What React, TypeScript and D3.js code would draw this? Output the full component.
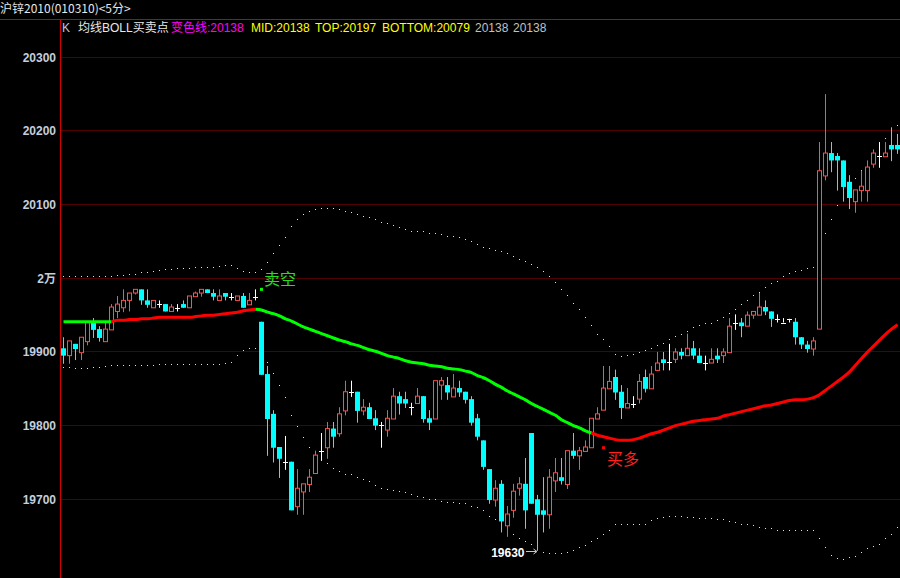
import React from 'react';
import * as d3 from 'd3';

// ---------- data (prices) ----------
const opens = [19905,19895,19911,19899,19914,19941,19931,19914,19930,19955, 19960,19970,19980,19985,19970,19960,19965,19965,19955,19960, 19965,19960,19975,19980,19985,19980,19970,19980,19975,19970, 19976,19964,19975,19941,19870,19816,19771,19751,19751,19690, 19710,19720,19735,19766,19770,19796,19789,19820,19846,19846, 19820,19825,19810,19801,19794,19809,19840,19836,19825,19830, 19840,19810,19809,19855,19855,19839,19851,19846,19836,19810, 19780,19741,19699,19721,19664,19685,19715,19721,19790,19700, 19685,19679,19725,19730,19720,19766,19759,19765,19770,19809, 19821,19850,19866,19846,19824,19830,19836,19866,19850,19875, 19890,19887,19890,19900,19895,19905,19895,19885,19885,19895, 19895,19899,19940,19940,19935,19950,19950,19961,19955,19945, 19940,19945,19941,19920,19910,19904,19931,20139,20170,20166, 20160,20131,20104,20119,20119,20155,20166,20165,20181,20181];
const highs = [19920,19915,19911,19920,19942,19946,19935,19940,19965,19976, 19985,19980,19985,19985,19985,19970,19970,19965,19965,19965, 19970,19976,19982,19985,19985,19985,19985,19980,19980,19976, 19980,19980,19985,19941,19881,19821,19771,19786,19751,19741, 19721,19741,19766,19790,19805,19805,19825,19861,19861,19846, 19836,19831,19821,19805,19821,19851,19846,19846,19831,19851, 19840,19821,19861,19866,19866,19870,19861,19846,19840,19816, 19780,19741,19726,19726,19691,19721,19730,19756,19790,19706, 19730,19741,19756,19756,19766,19790,19771,19780,19810,19825, 19881,19881,19876,19855,19851,19840,19870,19876,19881,19900, 19900,19911,19905,19905,19925,19915,19905,19895,19905,19905, 19905,19946,19951,19946,19955,19955,19980,19970,19955,19951, 19946,19945,19946,19920,19915,19920,20185,20250,20185,20170, 20160,20140,20120,20146,20160,20175,20185,20185,20205,20196];
const lows = [19884,19884,19889,19889,19909,19919,19914,19914,19930,19946, 19954,19955,19978,19964,19960,19960,19960,19955,19955,19955, 19960,19960,19975,19975,19980,19970,19970,19970,19970,19970, 19960,19964,19970,19869,19759,19750,19729,19740,19685,19679, 19679,19710,19735,19753,19755,19770,19785,19814,19839,19804, 19814,19809,19794,19770,19785,19809,19815,19824,19814,19830, 19804,19794,19809,19835,19835,19839,19839,19830,19800,19780, 19740,19694,19690,19655,19649,19675,19705,19660,19694,19630, 19655,19660,19710,19720,19714,19755,19740,19765,19770,19809, 19821,19850,19835,19809,19824,19824,19830,19845,19850,19875, 19875,19875,19885,19890,19895,19890,19885,19875,19885,19885, 19885,19899,19930,19920,19935,19945,19950,19950,19934,19940, 19940,19940,19910,19904,19899,19895,19931,20133,20144,20119, 20104,20094,20089,20104,20104,20150,20150,20165,20159,20169];
const closes = [19895,19915,19904,19920,19941,19930,19919,19931,19961,19965, 19970,19980,19985,19970,19964,19970,19965,19955,19961,19960, 19960,19976,19980,19985,19980,19975,19976,19975,19975,19976, 19960,19970,19975,19869,19809,19770,19755,19751,19685,19715, 19721,19730,19760,19766,19796,19785,19816,19846,19846,19820, 19825,19809,19800,19801,19810,19840,19830,19830,19825,19840, 19809,19804,19861,19861,19845,19851,19845,19835,19804,19785, 19744,19699,19715,19670,19680,19711,19721,19685,19694,19679, 19679,19730,19736,19725,19766,19759,19766,19771,19810,19816, 19851,19860,19845,19824,19830,19830,19860,19850,19870,19885, 19885,19887,19900,19895,19905,19895,19885,19885,19890,19890, 19900,19935,19940,19935,19950,19955,19961,19955,19945,19945, 19940,19945,19920,19910,19904,19915,20146,20170,20160,20160, 20124,20109,20120,20125,20151,20170,20166,20170,20175,20175];
const maValues = [19941,19941,19941,19941,19941,19941,19941,19941,19941,19943, 19943,19944,19944,19945,19945,19946,19947,19947,19947,19947, 19947,19947,19948,19949,19950,19950,19951,19952,19953,19954, 19956,19957,19958,19957,19954,19952,19949,19945,19942,19938, 19934,19931,19928,19925,19922,19919,19916,19914,19911,19909, 19906,19903,19901,19898,19895,19893,19891,19888,19886,19885, 19884,19882,19881,19880,19878,19877,19876,19874,19872,19868, 19865,19861,19856,19852,19847,19843,19839,19835,19830,19826, 19822,19818,19814,19808,19804,19800,19797,19793,19790,19787, 19785,19783,19781,19780,19780,19781,19783,19786,19789,19791, 19794,19797,19800,19802,19804,19806,19807,19808,19809,19810, 19813,19815,19817,19819,19821,19823,19825,19827,19828,19830, 19832,19834,19835,19835,19836,19838,19842,19848,19854,19860, 19866,19873,19882,19891,19900,19908,19916,19924,19931,19937];
const bollUpper = [20003,20003,20003,20003,20003,20003,20003,20003,20003,20005, 20005,20006,20006,20008,20009,20010,20011,20012,20012,20014, 20014,20014,20015,20015,20016,20016,20017,20018,20018,20014, 20010,20008,20009,20012,20022,20034,20045,20056,20071,20080, 20087,20091,20094,20096,20096,20095,20094,20092,20090,20087, 20084,20083,20080,20077,20075,20072,20069,20067,20064,20064, 20064,20062,20061,20060,20058,20057,20056,20053,20050,20046, 20043,20041,20038,20037,20034,20030,20026,20023,20019,20015, 20010,20003,19995,19985,19977,19967,19958,19947,19936,19925, 19917,19908,19897,19894,19896,19897,19900,19902,19905,19909, 19912,19917,19921,19925,19929,19934,19936,19939,19940,19943, 19947,19953,19959,19965,19970,19977,19982,19988,19993,19997, 20003,20007,20010,20011,20014,20015,20037,20061,20081,20099, 20112,20124,20136,20147,20159,20170,20180,20190,20199,20208];
const bollLower = [19879,19879,19878,19878,19878,19879,19879,19881,19882,19882, 19882,19882,19882,19882,19882,19882,19883,19883,19883,19883, 19883,19883,19883,19883,19883,19883,19883,19885,19886,19896, 19902,19905,19906,19900,19887,19872,19855,19839,19815,19800, 19784,19771,19760,19753,19749,19742,19738,19735,19734,19730, 19727,19725,19720,19716,19714,19712,19711,19710,19707,19705, 19703,19700,19700,19698,19697,19697,19695,19695,19691,19689, 19685,19678,19673,19667,19660,19653,19648,19643,19639,19634, 19628,19627,19627,19627,19629,19631,19635,19638,19643,19648, 19653,19658,19666,19666,19666,19667,19667,19667,19672,19674, 19676,19677,19677,19677,19676,19676,19674,19674,19674,19673, 19673,19670,19669,19667,19666,19665,19662,19661,19661,19659, 19659,19659,19658,19658,19658,19658,19647,19635,19625,19620, 19619,19621,19623,19629,19634,19636,19640,19647,19653,19662];

const gridPrices = [19700, 19800, 19900, 20000, 20100, 20200, 20300];
const gridLabels = ['19700', '19800', '19900', '2万', '20100', '20200', '20300'];

// trend colour of the MA line: [start index, end index, direction]
const trendSegments: [number, number, 'up' | 'down'][] = [
  [0, 8, 'down'],
  [8, 32, 'up'],
  [32, 88, 'down'],
  [88, 139, 'up'],
];

const signals = [
  { index: 33, price: 19985, label: '卖空', kind: 'sell' },
  { index: 90, price: 19770, label: '买多', kind: 'buy' },
];
const lowPoint = { index: 79, price: 19630, label: '19630' };

const titleText = '沪锌2010(010310)<5分>';
const legendTexts = ['K', '均线BOLL买卖点', '变色线:20138', 'MID:20138', 'TOP:20197', 'BOTTOM:20079', '20138', '20138'];
const legendColors = ['#b8c8e0', '#e8e8e8', '#ff00ff', '#ffff00', '#ffff00', '#ffff00', '#c0c0c0', '#c0c0c0'];
const legendX = [62, 78, 171, 251, 315, 382, 475, 513];

// ---------- layout ----------
const W = 900;
const H = 578;
const AXIS_X = 60.5;
const TOP_Y = 19.5;

const UP = '#ff5050';
const DOWN = '#00ffff';
const DOJI = '#ffffff';
const FONT = '"Liberation Sans", Arial, "Noto Sans CJK SC", sans-serif';
const CJK = '"Noto Sans CJK SC", sans-serif';

export default function App() {
  const idx = d3.range(opens.length);
  const x = d3.scaleBand<number>().domain(idx).range([AXIS_X, W + 0.5]);
  const cxOf = (i: number) => (x(i) as number) + x.bandwidth() / 2;
  const y = d3.scaleLinear().domain([19700, 20300]).range([499.3, 57.3]);

  const maLine = d3
    .line<number>()
    .x((i) => cxOf(i))
    .y((i) => y(maValues[i]))
    .curve(d3.curveMonotoneX);

  return (
    <div style={{ position: 'fixed', left: 0, top: 0, width: W, height: H, background: '#000' }}>
      <svg width={W} height={H} style={{ display: 'block' }}>
        <rect x={0} y={0} width={W} height={H} fill="#000" />

        {/* title */}
        <text x={0} y={13} fill="#e6e6e6" fontSize={12} fontFamily={CJK}>
          {titleText}
        </text>
        <line x1={0} x2={W} y1={TOP_Y} y2={TOP_Y} stroke="#c80000" strokeWidth={1} />

        {/* legend */}
        {legendTexts.map((t, k) => (
          <text key={'lg' + k} x={legendX[k]} y={32} fill={legendColors[k]} fontSize={12} fontFamily={FONT}>
            {t}
          </text>
        ))}

        {/* grid and labels */}
        {gridPrices.map((p, k) => {
          const gy = Math.floor(y(p)) + 0.5;
          return (
            <g key={'g' + p}>
              <line x1={AXIS_X + 1} x2={W} y1={gy} y2={gy} stroke="#a00000" strokeWidth={1} strokeDasharray="1 1" />
              <text x={56} y={gy + 4.5} textAnchor="end" fill="#c4cedc" fontSize={12} fontWeight="bold" fontFamily={FONT}>
                {gridLabels[k]}
              </text>
            </g>
          );
        })}
        <line x1={AXIS_X} x2={AXIS_X} y1={TOP_Y} y2={H} stroke="#d00000" strokeWidth={1} />

        {/* BOLL bands (dotted) */}
        {idx.map((i) => (
          <g key={'b' + i}>
            <rect x={Math.floor(cxOf(i))} y={Math.round(y(bollUpper[i]))} width={1} height={1} fill="#ffff00" />
            <rect x={Math.floor(cxOf(i))} y={Math.round(y(bollLower[i]))} width={1} height={1} fill="#ffff00" />
          </g>
        ))}

        {/* candles */}
        {idx.map((i) => {
          const cx = cxOf(i);
          const o = opens[i], c = closes[i], h = highs[i], l = lows[i];
          const yO = y(o), yC = y(c), yH = y(h), yL = y(l);
          if (c === o) {
            return (
              <g key={'c' + i} stroke={DOJI} strokeWidth={1}>
                <line x1={cx} x2={cx} y1={yH} y2={yL} />
                <line x1={cx - 2.5} x2={cx + 2.5} y1={Math.round(yO) + 0.5} y2={Math.round(yO) + 0.5} />
              </g>
            );
          }
          if (c > o) {
            const top = yC, bot = yO;
            return (
              <g key={'c' + i} stroke={UP} strokeWidth={1}>
                {yH < top - 0.5 && <line x1={cx} x2={cx} y1={yH} y2={top} />}
                {yL > bot + 0.5 && <line x1={cx} x2={cx} y1={bot} y2={yL} />}
                <rect x={cx - 2} y={top} width={4} height={Math.max(1, bot - top)} fill="#000" />
              </g>
            );
          }
          const top = yO, bot = yC;
          return (
            <g key={'c' + i}>
              <line x1={cx} x2={cx} y1={yH} y2={yL} stroke={DOWN} strokeWidth={1} />
              <rect x={cx - 2.5} y={top} width={5} height={Math.max(1, bot - top)} fill={DOWN} />
            </g>
          );
        })}

        {/* colour-changing MA line */}
        {trendSegments.map(([s, e, dir], k) => (
          <path
            key={'ma' + k}
            d={maLine(d3.range(s, e + 1)) || ''}
            fill="none"
            stroke={dir === 'up' ? '#ff0000' : '#00ff00'}
            strokeWidth={3}
            strokeLinejoin="round"
          />
        ))}

        {/* buy / sell signals */}
        {signals.map((s) => {
          const cx = cxOf(s.index);
          const sy = y(s.price);
          const col = s.kind === 'sell' ? '#00ff00' : '#ff0000';
          const txtCol = s.kind === 'sell' ? '#22e022' : '#ff2020';
          return (
            <g key={'s' + s.index}>
              <rect x={cx - 1.5} y={sy - 1.5} width={3} height={3} fill={col} />
              <text
                x={cx + (s.kind === 'sell' ? 2.5 : 3.5)}
                y={s.kind === 'sell' ? sy - 4 : sy + 17.5}
                fill={txtCol}
                fontSize={16}
                fontFamily={CJK}
              >
                {s.label}
              </text>
            </g>
          );
        })}

        {/* lowest-price marker */}
        {(() => {
          const cx = cxOf(lowPoint.index);
          const ly = Math.round(y(lowPoint.price)) + 0.5;
          return (
            <g>
              <text x={cx - 13} y={ly + 5.5} textAnchor="end" fill="#ffffff" fontSize={12} fontWeight="bold" fontFamily={FONT}>
                {lowPoint.label}
              </text>
              <line x1={cx - 11.5} x2={cx - 1} y1={ly} y2={ly} stroke="#c8c8c8" strokeWidth={1} />
              <path d={`M${cx - 4},${ly - 2.5} L${cx - 0.5},${ly} L${cx - 4},${ly + 2.5}`} fill="none" stroke="#c8c8c8" strokeWidth={1} />
            </g>
          );
        })()}
      </svg>
    </div>
  );
}
